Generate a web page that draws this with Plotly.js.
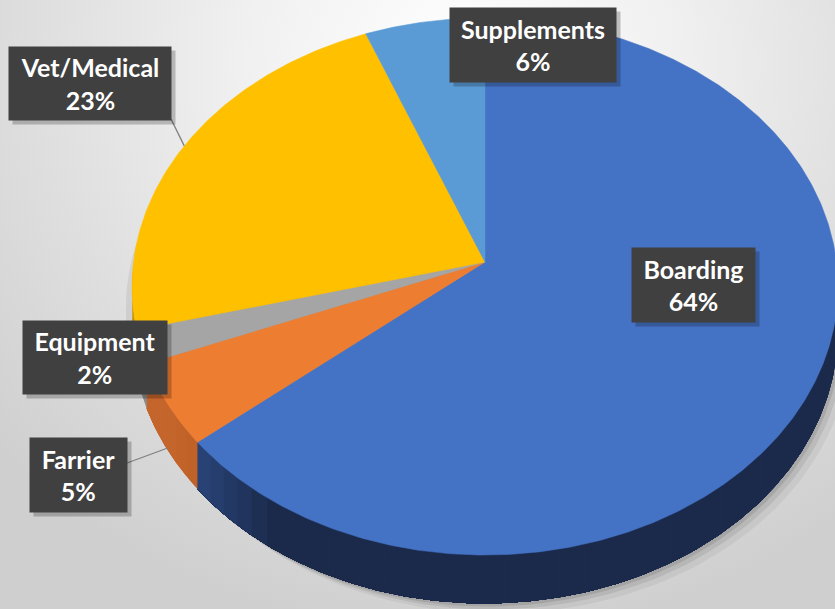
<!DOCTYPE html>
<html>
<head>
<meta charset="utf-8">
<script src="https://cdn.plot.ly/plotly-3.0.1.min.js"></script>
<style>
  html, body { margin:0; padding:0; overflow:hidden; }
  body { width:835px; height:609px;
    background: radial-gradient(ellipse 75% 95% at 55% 10%, #ffffff 0%, #f0f0f0 35%, #e0e0e0 65%, #cfcfcf 100%); }
  #chart { width:835px; height:609px; }
</style>
</head>
<body>
<div id="chart"></div>
<script>
// ---- data ----
const labels = ['Boarding', 'Farrier', 'Equipment', 'Vet/Medical', 'Supplements'];
const percents = [64, 5, 2, 23, 6];
const topColors = ['#4472C4', '#ED7D31', '#A5A5A5', '#FFC000', '#5B9BD5'];
const wallDark = ['#1B2A4B', '#B0561E', '#7A7A7A', '#B88A00', '#3E6E99'];
const wallLit  = ['#2F4E8A', '#C4652B', '#8A8A8A', '#C99800', '#4A7FB0'];

// ---- geometry (tilted pie projection) ----
const CX = 485, CY = 262, A = 351.5, B = 266.3, K = 0.0912, D = 44;
function proj(deg, drop) {
  const t = deg * Math.PI / 180;
  const X = Math.sin(t), Z = Math.cos(t);
  const w = 1 + K * Z;
  return [CX + A * X / w, CY - B * Z / w + (drop || 0) * D / w];
}
function hex2rgb(h){return [parseInt(h.slice(1,3),16),parseInt(h.slice(3,5),16),parseInt(h.slice(5,7),16)];}
function mix(c1,c2,t){const a=hex2rgb(c1),b=hex2rgb(c2);return 'rgb('+a.map((v,i)=>Math.round(v+(b[i]-v)*t)).join(',')+')';}

const total = percents.reduce((s,v)=>s+v,0);
const starts = [], ends = [];
let acc = 0;
percents.forEach(v => { starts.push(acc / total * 360); acc += v; ends.push(acc / total * 360); });

const traces = [];

// soft shadow
[[12,10,'rgba(0,0,0,0.05)'],[7,6,'rgba(0,0,0,0.08)'],[3,3,'rgba(0,0,0,0.10)']].forEach(s => {
  const xs=[], ys=[];
  for (let a = 0; a <= 360; a += 2) { const p = proj(a, 1); xs.push(p[0] + s[0]); ys.push(p[1] + s[1]); }
  traces.push({type:'scatter', mode:'lines', x:xs, y:ys, fill:'toself', fillcolor:s[2], line:{width:0}, hoverinfo:'skip'});
});
(function(){
  const xs=[], ys=[];
  for (let a = 0; a <= 360; a += 2) { const p = proj(a, 0.5); xs.push(CX + (p[0]-CX)*1.012 - 2); ys.push(p[1]); }
  traces.push({type:'scatter', mode:'lines', x:xs, y:ys, fill:'toself', fillcolor:'rgba(0,0,0,0.07)', line:{width:0}, hoverinfo:'skip'});
})();

// side walls: overlapping chunks, each running from its start to the slice's end (no seams)
const WALL_FROM = 92, WALL_TO = 268, STEP = 3;
function wallPoly(a, b) {
  const xs=[], ys=[];
  for (let t = a; t < b; t += 0.5) { const p = proj(t, 0); xs.push(p[0]); ys.push(p[1]); }
  let p = proj(b, 0); xs.push(p[0]); ys.push(p[1]);
  p = proj(b, 1); xs.push(p[0]); ys.push(p[1]);
  for (let t = b - 0.5; t > a; t -= 0.5) { const q = proj(t, 1); xs.push(q[0]); ys.push(q[1]); }
  p = proj(a, 1); xs.push(p[0]); ys.push(p[1]);
  p = proj(a, 0); xs.push(p[0]); ys.push(p[1]);
  return [xs, ys];
}
labels.forEach((lab, i) => {
  const a0 = Math.max(starts[i], WALL_FROM), a1 = Math.min(ends[i], WALL_TO);
  if (a1 <= a0) return;
  for (let a = a0; a < a1; a += STEP) {
    const mid = Math.min(a + STEP / 2, a1);
    const sx = -Math.sin(mid * Math.PI / 180);
    const tt = Math.max(0, Math.min(1, (sx - 0.55) / 0.3));
    const col = mix(wallDark[i], wallLit[i], tt);
    const poly = wallPoly(a, a1);
    traces.push({type:'scatter', mode:'lines', x:poly[0], y:poly[1], fill:'toself', fillcolor:col, line:{width:0}, hoverinfo:'skip'});
  }
});

// top faces
labels.forEach((lab, i) => {
  const xs=[CX], ys=[CY];
  for (let t = starts[i]; t < ends[i]; t += 0.5) { const p = proj(t, 0); xs.push(p[0]); ys.push(p[1]); }
  const pe = proj(ends[i], 0); xs.push(pe[0]); ys.push(pe[1]);
  xs.push(CX); ys.push(CY);
  traces.push({type:'scatter', mode:'lines', x:xs, y:ys, fill:'toself', fillcolor:topColors[i],
    line:{width:0.5, color:topColors[i]}, name:lab, hoverinfo:'skip'});
});

// ---- labels ----
const boxes = {
  'Boarding':    {x:693, y:285, w:123, h:74},
  'Farrier':     {x:78,  y:475, w:97,  h:74},
  'Equipment':   {x:95,  y:357, w:144, h:73},
  'Vet/Medical': {x:90,  y:83,  w:162, h:73},
  'Supplements': {x:533, y:45,  w:166, h:74}
};
const annotations = [];
labels.forEach((lab, i) => {
  const b = boxes[lab];
  annotations.push({x:b.x+4, y:b.y+4, xref:'x', yref:'y', text:' ', showarrow:false, width:b.w, height:b.h,
    bgcolor:'rgba(0,0,0,0.22)', borderpad:0, xanchor:'center', yanchor:'middle'});
});
labels.forEach((lab, i) => {
  const b = boxes[lab];
  annotations.push({x:b.x, y:b.y, xref:'x', yref:'y', showarrow:false, width:b.w, height:b.h,
    text:'<b>' + lab + '</b><br><b>' + percents[i] + '%</b>',
    font:{family:'Lato, "Open Sans", sans-serif', size:25, color:'#ffffff'},
    bgcolor:'#404040', borderpad:0, xanchor:'center', yanchor:'middle', align:'center'});
});

// leader lines
const vetIdx = labels.indexOf('Vet/Medical'), farIdx = labels.indexOf('Farrier');
const vetEnd = proj((starts[vetIdx] + ends[vetIdx]) / 2, 0);
const farEnd = proj((starts[farIdx] + ends[farIdx]) / 2, 0.95);
const shapes = [
  {type:'line', xref:'x', yref:'y', x0:171, y0:119, x1:vetEnd[0], y1:vetEnd[1], line:{color:'#7f7f7f', width:1.3}},
  {type:'line', xref:'x', yref:'y', x0:127, y0:463, x1:farEnd[0], y1:farEnd[1], line:{color:'#7f7f7f', width:1.3}}
];

const layout = {
  width:835, height:609,
  margin:{l:0, r:0, t:0, b:0},
  paper_bgcolor:'rgba(0,0,0,0)', plot_bgcolor:'rgba(0,0,0,0)',
  xaxis:{range:[0,835], visible:false, fixedrange:true},
  yaxis:{range:[609,0], visible:false, fixedrange:true},
  showlegend:false, hovermode:false,
  annotations: annotations, shapes: shapes
};
Plotly.newPlot('chart', traces, layout, {displayModeBar:false, staticPlot:true});
</script>
</body>
</html>
